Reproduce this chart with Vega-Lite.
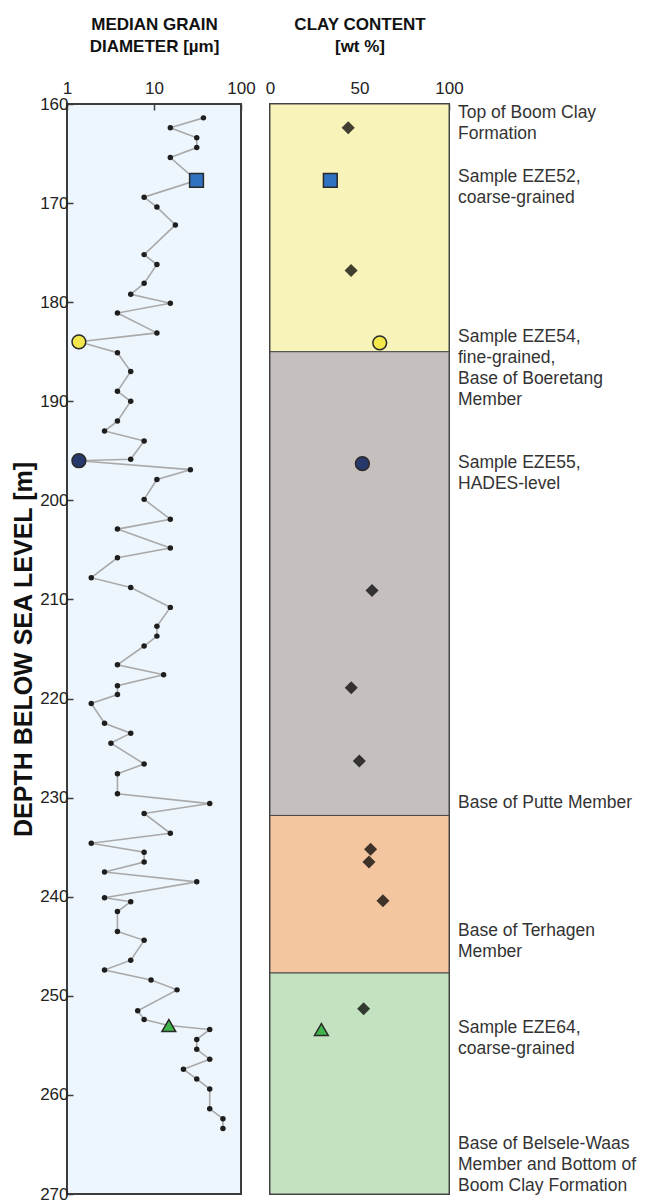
{
  "$schema": "https://vega.github.io/schema/vega-lite/v6.json",
  "background": "white",
  "padding": {"left": 10, "top": 14, "right": 2, "bottom": 2},
  "config": {
    "font": "Liberation Sans",
    "view": {"stroke": "#3c3c3c", "strokeWidth": 2},
    "axis": {
      "labelFont": "Liberation Sans",
      "labelFontSize": 17,
      "labelColor": "#222222",
      "labelFlush": false,
      "titleFont": "Liberation Sans",
      "titleFontSize": 17,
      "titleFontWeight": "bold",
      "titleColor": "#111111",
      "titleLineHeight": 22,
      "domain": false,
      "grid": false,
      "tickColor": "#3c3c3c",
      "tickWidth": 1.5,
      "tickSize": -6
    }
  },
  "datasets": {
    "grain": [
      {"depth": 161.4, "d50": 37.0, "sample": ""},
      {"depth": 162.4, "d50": 15.4, "sample": ""},
      {"depth": 163.4, "d50": 31.0, "sample": ""},
      {"depth": 164.4, "d50": 31.0, "sample": ""},
      {"depth": 165.4, "d50": 15.4, "sample": ""},
      {"depth": 167.7, "d50": 30.8, "sample": "EZE52"},
      {"depth": 169.4, "d50": 7.7, "sample": ""},
      {"depth": 170.4, "d50": 10.8, "sample": ""},
      {"depth": 172.2, "d50": 17.6, "sample": ""},
      {"depth": 175.2, "d50": 7.7, "sample": ""},
      {"depth": 176.2, "d50": 10.8, "sample": ""},
      {"depth": 178.1, "d50": 7.7, "sample": ""},
      {"depth": 179.2, "d50": 5.4, "sample": ""},
      {"depth": 180.1, "d50": 15.4, "sample": ""},
      {"depth": 181.1, "d50": 3.8, "sample": ""},
      {"depth": 183.1, "d50": 10.8, "sample": ""},
      {"depth": 184.0, "d50": 1.37, "sample": "EZE54"},
      {"depth": 185.1, "d50": 3.8, "sample": ""},
      {"depth": 187.0, "d50": 5.4, "sample": ""},
      {"depth": 189.0, "d50": 3.8, "sample": ""},
      {"depth": 190.0, "d50": 5.4, "sample": ""},
      {"depth": 192.0, "d50": 3.8, "sample": ""},
      {"depth": 193.0, "d50": 2.7, "sample": ""},
      {"depth": 194.0, "d50": 7.7, "sample": ""},
      {"depth": 195.85, "d50": 5.4, "sample": ""},
      {"depth": 196.0, "d50": 1.37, "sample": "EZE55"},
      {"depth": 196.9, "d50": 26.2, "sample": ""},
      {"depth": 197.9, "d50": 10.8, "sample": ""},
      {"depth": 199.9, "d50": 7.7, "sample": ""},
      {"depth": 201.9, "d50": 15.4, "sample": ""},
      {"depth": 202.9, "d50": 3.8, "sample": ""},
      {"depth": 204.8, "d50": 15.4, "sample": ""},
      {"depth": 205.8, "d50": 3.8, "sample": ""},
      {"depth": 207.8, "d50": 1.9, "sample": ""},
      {"depth": 208.8, "d50": 5.4, "sample": ""},
      {"depth": 210.8, "d50": 15.4, "sample": ""},
      {"depth": 212.7, "d50": 10.8, "sample": ""},
      {"depth": 213.7, "d50": 10.8, "sample": ""},
      {"depth": 214.7, "d50": 7.7, "sample": ""},
      {"depth": 216.6, "d50": 3.8, "sample": ""},
      {"depth": 217.6, "d50": 12.9, "sample": ""},
      {"depth": 218.7, "d50": 3.8, "sample": ""},
      {"depth": 219.6, "d50": 3.8, "sample": ""},
      {"depth": 220.5, "d50": 1.9, "sample": ""},
      {"depth": 222.5, "d50": 2.7, "sample": ""},
      {"depth": 223.5, "d50": 5.4, "sample": ""},
      {"depth": 224.5, "d50": 3.2, "sample": ""},
      {"depth": 226.6, "d50": 7.7, "sample": ""},
      {"depth": 227.6, "d50": 3.8, "sample": ""},
      {"depth": 229.6, "d50": 3.8, "sample": ""},
      {"depth": 230.6, "d50": 43.7, "sample": ""},
      {"depth": 231.6, "d50": 7.7, "sample": ""},
      {"depth": 233.6, "d50": 15.4, "sample": ""},
      {"depth": 234.6, "d50": 1.9, "sample": ""},
      {"depth": 235.5, "d50": 7.7, "sample": ""},
      {"depth": 236.5, "d50": 7.7, "sample": ""},
      {"depth": 237.5, "d50": 2.7, "sample": ""},
      {"depth": 238.5, "d50": 31.0, "sample": ""},
      {"depth": 240.1, "d50": 2.7, "sample": ""},
      {"depth": 240.5, "d50": 5.4, "sample": ""},
      {"depth": 241.5, "d50": 3.8, "sample": ""},
      {"depth": 243.5, "d50": 3.8, "sample": ""},
      {"depth": 244.4, "d50": 7.7, "sample": ""},
      {"depth": 246.4, "d50": 5.4, "sample": ""},
      {"depth": 247.4, "d50": 2.7, "sample": ""},
      {"depth": 248.4, "d50": 9.25, "sample": ""},
      {"depth": 249.4, "d50": 18.4, "sample": ""},
      {"depth": 251.5, "d50": 6.5, "sample": ""},
      {"depth": 252.4, "d50": 7.7, "sample": ""},
      {"depth": 253.0, "d50": 14.8, "sample": "EZE64"},
      {"depth": 253.4, "d50": 43.7, "sample": ""},
      {"depth": 254.4, "d50": 31.0, "sample": ""},
      {"depth": 255.4, "d50": 31.0, "sample": ""},
      {"depth": 256.4, "d50": 43.7, "sample": ""},
      {"depth": 257.4, "d50": 21.8, "sample": ""},
      {"depth": 258.4, "d50": 31.0, "sample": ""},
      {"depth": 259.4, "d50": 43.7, "sample": ""},
      {"depth": 261.4, "d50": 43.7, "sample": ""},
      {"depth": 262.4, "d50": 62.0, "sample": ""},
      {"depth": 263.4, "d50": 62.0, "sample": ""}
    ],
    "clay": [
      {"depth": 162.4, "clay": 43.7, "sample": ""},
      {"depth": 167.7, "clay": 33.7, "sample": "EZE52"},
      {"depth": 176.8, "clay": 45.3, "sample": ""},
      {"depth": 184.1, "clay": 61.3, "sample": "EZE54"},
      {"depth": 196.3, "clay": 51.6, "sample": "EZE55"},
      {"depth": 209.1, "clay": 57.0, "sample": ""},
      {"depth": 218.9, "clay": 45.4, "sample": ""},
      {"depth": 226.3, "clay": 49.9, "sample": ""},
      {"depth": 235.2, "clay": 56.2, "sample": ""},
      {"depth": 236.5, "clay": 55.3, "sample": ""},
      {"depth": 240.4, "clay": 63.1, "sample": ""},
      {"depth": 251.3, "clay": 52.3, "sample": ""},
      {"depth": 253.4, "clay": 28.7, "sample": "EZE64"}
    ],
    "members": [
      {"member": "Boeretang", "top": 160, "base": 185},
      {"member": "Putte", "top": 185, "base": 231.8},
      {"member": "Terhagen", "top": 231.8, "base": 247.7},
      {"member": "Belsele-Waas", "top": 247.7, "base": 270}
    ],
    "notes": [
      {"depth": 160.9, "note": "Top of Boom Clay\nFormation"},
      {"depth": 167.4, "note": "Sample EZE52,\ncoarse-grained"},
      {"depth": 183.5, "note": "Sample EZE54,\nfine-grained,\nBase of Boeretang\nMember"},
      {"depth": 196.2, "note": "Sample EZE55,\nHADES-level"},
      {"depth": 230.5, "note": "Base of Putte Member"},
      {"depth": 243.5, "note": "Base of Terhagen\nMember"},
      {"depth": 253.2, "note": "Sample EZE64,\ncoarse-grained"},
      {"depth": 265.0, "note": "Base of Belsele-Waas\nMember and Bottom of\nBoom Clay Formation"}
    ]
  },
  "spacing": 29,
  "bounds": "flush",
  "hconcat": [
    {
      "width": 174,
      "height": 1090,
      "view": {"fill": "#eef6fd", "stroke": "#3c3c3c", "strokeWidth": 2},
      "data": {"name": "grain"},
      "encoding": {
        "y": {
          "field": "depth",
          "type": "quantitative",
          "scale": {"domain": [160, 270], "reverse": true, "nice": false, "zero": false},
          "axis": {
            "values": [160, 170, 180, 190, 200, 210, 220, 230, 240, 250, 260, 270],
            "title": "DEPTH BELOW SEA LEVEL [m]",
            "titleFontSize": 25,
            "labelPadding": 5,
            "titlePadding": 3
          }
        },
        "x": {
          "field": "d50",
          "type": "quantitative",
          "scale": {"type": "log", "domain": [1, 100], "nice": false},
          "axis": {
            "orient": "top",
            "values": [1, 10, 100],
            "format": "~g",
            "title": ["MEDIAN GRAIN", "DIAMETER [µm]"],
            "labelPadding": 13,
            "titlePadding": 24
          }
        }
      },
      "layer": [
        {
          "mark": {"type": "line", "color": "#a9a9a9", "strokeWidth": 1.6},
          "encoding": {"order": {"field": "depth", "type": "quantitative"}}
        },
        {
          "transform": [{"filter": "datum.sample === ''"}],
          "mark": {"type": "circle", "size": 30, "color": "#1e1e1e", "opacity": 1}
        },
        {
          "transform": [{"filter": "datum.sample !== ''"}],
          "mark": {"type": "point", "filled": true, "size": 190, "stroke": "#2a2a2a", "strokeWidth": 1.5, "opacity": 1},
          "encoding": {
            "shape": {
              "field": "sample",
              "type": "nominal",
              "scale": {"domain": ["EZE52", "EZE54", "EZE55", "EZE64"], "range": ["square", "circle", "circle", "triangle-up"]},
              "legend": null
            },
            "fill": {
              "field": "sample",
              "type": "nominal",
              "scale": {"domain": ["EZE52", "EZE54", "EZE55", "EZE64"], "range": ["#2f72c2", "#f2e84c", "#27386b", "#3fb54c"]},
              "legend": null
            }
          }
        }
      ]
    },
    {
      "width": 179,
      "height": 1090,
      "view": {"stroke": "#3c3c3c", "strokeWidth": 2},
      "layer": [
        {
          "data": {"name": "members"},
          "mark": {"type": "rect", "stroke": "#4a4a4a", "strokeWidth": 1},
          "encoding": {
            "y": {
              "field": "top",
              "type": "quantitative",
              "scale": {"domain": [160, 270], "reverse": true, "nice": false, "zero": false},
              "axis": null
            },
            "y2": {"field": "base"},
            "x": {
              "datum": 0,
              "type": "quantitative",
              "scale": {"domain": [0, 100], "nice": false},
              "axis": {
                "orient": "top",
                "values": [0, 50, 100],
                "title": ["CLAY CONTENT", "[wt %]"],
                "labelPadding": 13,
                "titlePadding": 24
              }
            },
            "x2": {"datum": 100},
            "color": {
              "field": "member",
              "type": "nominal",
              "scale": {
                "domain": ["Boeretang", "Putte", "Terhagen", "Belsele-Waas"],
                "range": ["#f8f3b9", "#c5bfbd", "#f4c6a0", "#c3e2bf"]
              },
              "legend": null
            }
          }
        },
        {
          "data": {"name": "clay"},
          "transform": [{"filter": "datum.sample === ''"}],
          "mark": {"type": "point", "shape": "diamond", "filled": true, "size": 170, "color": "#000000", "opacity": 0.74},
          "encoding": {
            "x": {"field": "clay", "type": "quantitative"},
            "y": {"field": "depth", "type": "quantitative"}
          }
        },
        {
          "data": {"name": "clay"},
          "transform": [{"filter": "datum.sample !== ''"}],
          "mark": {"type": "point", "filled": true, "size": 190, "stroke": "#2a2a2a", "strokeWidth": 1.5, "opacity": 1},
          "encoding": {
            "x": {"field": "clay", "type": "quantitative"},
            "y": {"field": "depth", "type": "quantitative"},
            "shape": {
              "field": "sample",
              "type": "nominal",
              "scale": {"domain": ["EZE52", "EZE54", "EZE55", "EZE64"], "range": ["square", "circle", "circle", "triangle-up"]},
              "legend": null
            },
            "fill": {
              "field": "sample",
              "type": "nominal",
              "scale": {"domain": ["EZE52", "EZE54", "EZE55", "EZE64"], "range": ["#2f72c2", "#f2e84c", "#27386b", "#3fb54c"]},
              "legend": null
            }
          }
        },
        {
          "data": {"name": "notes"},
          "mark": {
            "type": "text",
            "align": "left",
            "baseline": "middle",
            "dx": 9,
            "fontSize": 17.5,
            "lineHeight": 21,
            "lineBreak": "\n",
            "color": "#333333",
            "font": "Liberation Sans"
          },
          "encoding": {
            "x": {"datum": 100, "type": "quantitative"},
            "y": {"field": "depth", "type": "quantitative"},
            "text": {"field": "note", "type": "nominal"}
          }
        }
      ]
    }
  ]
}
